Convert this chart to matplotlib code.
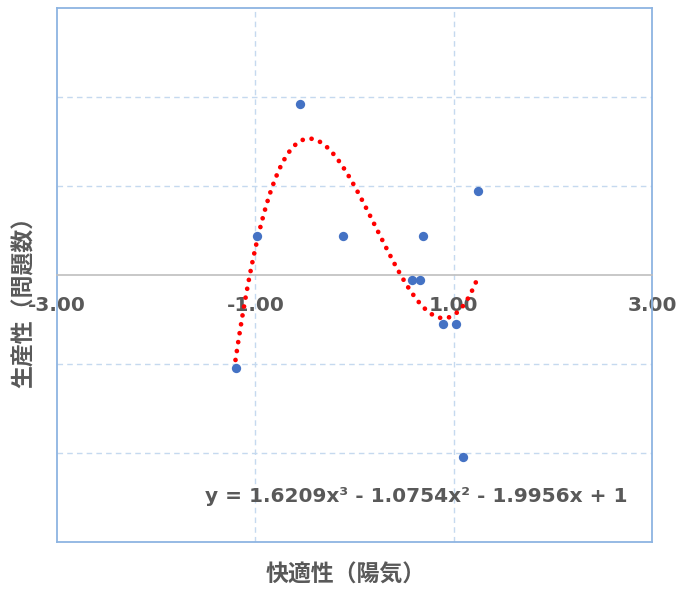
import numpy as np
import matplotlib
matplotlib.use("Agg")
import matplotlib.pyplot as plt

plt.rcParams['font.family'] = ['Noto Sans CJK JP', 'DejaVu Sans']

# Data
x_vals = [-0.55, -0.98, -0.12, 0.69, 1.245, 0.58, 0.66, 0.89, 1.02, -1.20, 1.09]
y_vals = [1.92, 0.44, 0.44, 0.44, 0.94, -0.06, -0.06, -0.55, -0.55, -1.05, -2.04]
# Trendline coefficients (cubic), as shown on the chart
coeffs = [1.6209, -1.0754, -1.9956, 1.0]
x_ticks = [-3, -1, 1, 3]
x_tick_labels = ["-3.00", "-1.00", "1.00", "3.00"]
equation = "y = 1.6209x³ - 1.0754x² - 1.9956x + 1"
x_title = "快適性（陽気）"
y_title = "生産性（問題数）"

W, H = 679, 589
fig = plt.figure(figsize=(W / 100, H / 100), dpi=100)
left, right, top, bottom = 57, 652, 8, 542
ax = fig.add_axes([left / W, 1 - bottom / H, (right - left) / W, (bottom - top) / H])

ax.set_xlim(-3, 3)
ax.set_ylim(-3, 3)

grid_c = '#c5d9ef'
for gx in [-1, 1]:
    ax.axvline(gx, color=grid_c, lw=1, ls=(0, (4, 3)), zorder=0)
for gy in [-2, -1, 1, 2]:
    ax.axhline(gy, color=grid_c, lw=1, ls=(0, (4, 3)), zorder=0)

for s in ['top', 'right', 'left']:
    ax.spines[s].set_color('#8db4e2')
    ax.spines[s].set_linewidth(1.3)
ax.spines['bottom'].set_position(('data', 0))
ax.spines['bottom'].set_color('#bfbfbf')
ax.spines['bottom'].set_linewidth(1.2)
# bottom border of plot area
ax.plot([0, 1], [0, 0], transform=ax.transAxes, color='#8db4e2', lw=1.3, clip_on=False, zorder=5)

ax.set_xticks(x_ticks)
ax.set_xticklabels(x_tick_labels)
ax.set_yticks([])
ax.tick_params(axis='x', length=0, pad=15, labelsize=14.5, labelcolor='#595959')
for lab in ax.get_xticklabels():
    lab.set_fontweight('bold')
    lab.set_family(['DejaVu Sans'])

# trendline
xs = np.linspace(min(x_vals), max(x_vals), 300)
ys = np.polyval(coeffs, xs)
ax.plot(xs, ys, color='#ff0000', lw=3.4, ls=(0, (0.01, 1.9)), dash_capstyle='round', zorder=3)

ax.scatter(x_vals, y_vals, s=45, color='#4472c4', zorder=4, linewidths=0)

fig.text(416 / W, 1 - 497 / H, equation, ha='center', va='center', fontsize=14.5,
         fontweight='bold', color='#595959', family=['DejaVu Sans'])
fig.text(346 / W, 1 - 575 / H, x_title, ha='center', va='center', fontsize=16.5,
         fontweight='bold', color='#595959')
fig.text(24 / W, 1 - 297 / H, y_title, ha='center', va='center', fontsize=16.5,
         fontweight='bold', color='#595959', rotation=90)

fig.savefig('out.png', dpi=100)
